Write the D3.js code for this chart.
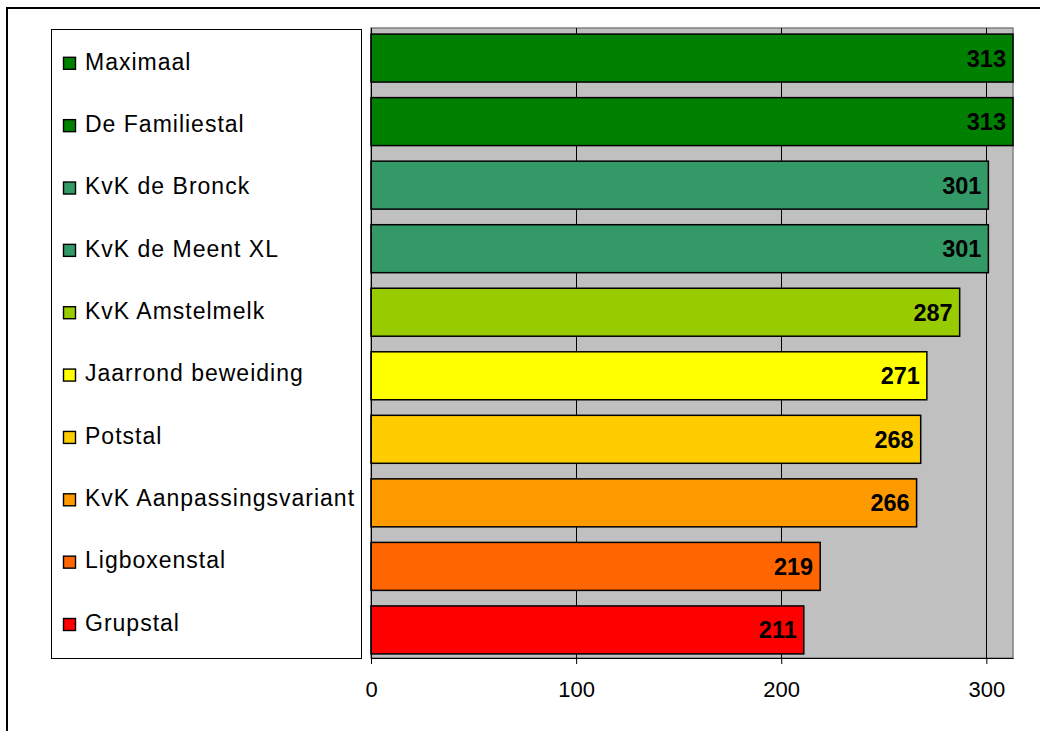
<!DOCTYPE html>
<html><head><meta charset="utf-8">
<script src="https://cdn.jsdelivr.net/npm/d3@7"></script>
<style>body{margin:0;background:#fff}svg{display:block}</style>
</head><body>
<svg id="c" width="1040" height="731"></svg>
<script>
const categories = ["Maximaal","De Familiestal","KvK de Bronck","KvK de Meent XL","KvK Amstelmelk","Jaarrond beweiding","Potstal","KvK Aanpassingsvariant","Ligboxenstal","Grupstal"];
const values = [313,313,301,301,287,271,268,266,219,211];
const colors = ["#008000","#008000","#339966","#339966","#99CC00","#FFFF00","#FFCC00","#FF9900","#FF6600","#FF0000"];
const ticks = [0,100,200,300];

const svg = d3.select("#c");
const font = "'Liberation Sans', Arial, sans-serif";

// outer frame
svg.append("rect").attr("x",7).attr("y",8).attr("width",1060).attr("height",760)
  .attr("fill","#fff").attr("stroke","#000").attr("stroke-width",2);

const plot = {left:371, right:1013, top:28, bottom:658};
const x = d3.scaleLinear().domain([0,313]).range([plot.left, plot.right]);
const y = d3.scaleBand().domain(categories).range([plot.top+1, plot.bottom+1]).paddingInner(0.245).paddingOuter(0.08);
const ly = d3.scalePoint().domain(categories).range([61.3, 622.5]);

// plot background
svg.append("rect").attr("x",plot.left).attr("y",plot.top).attr("width",plot.right-plot.left).attr("height",plot.bottom-plot.top)
  .attr("fill","#C0C0C0").attr("stroke","#808080").attr("stroke-width",1.5);

// gridlines
svg.append("g").selectAll("line").data(ticks.filter(t=>t>0)).join("line")
  .attr("x1",d=>Math.round(x(d))+0.5).attr("x2",d=>Math.round(x(d))+0.5)
  .attr("y1",plot.top).attr("y2",plot.bottom).attr("stroke","#000").attr("stroke-width",1);

// bars
svg.append("g").selectAll("rect").data(categories).join("rect")
  .attr("x",x(0)).attr("y",d=>y(d)).attr("width",(d,i)=>x(values[i])-x(0)).attr("height",y.bandwidth())
  .attr("fill",(d,i)=>colors[i]).attr("stroke","#000").attr("stroke-width",1.5);

// value labels
svg.append("g").selectAll("text").data(categories).join("text")
  .attr("x",(d,i)=>x(values[i])-7).attr("y",d=>y(d)+y.bandwidth()/2)
  .attr("dy","0.36em").attr("text-anchor","end")
  .attr("font-family",font).attr("font-weight","bold").attr("font-size",23.5)
  .text((d,i)=>values[i]);

// x axis
const xAxis = d3.axisBottom(x).tickValues(ticks).tickSize(6).tickSizeOuter(0);
const ga = svg.append("g").attr("transform",`translate(0,${plot.bottom})`).call(xAxis);
ga.select(".domain").attr("stroke","#000");
ga.selectAll(".tick line").attr("stroke","#000");
ga.selectAll("text").attr("font-family",font).attr("font-size",22).attr("fill","#000").attr("dy","1.35em");

// y axis line
svg.append("line").attr("x1",plot.left+0.5).attr("x2",plot.left+0.5).attr("y1",plot.top).attr("y2",plot.bottom+6).attr("stroke","#000");

// legend
const lg = svg.append("g");
lg.append("rect").attr("x",51.5).attr("y",29.5).attr("width",310).attr("height",629)
  .attr("fill","#fff").attr("stroke","#000").attr("stroke-width",1);
const items = lg.selectAll("g.item").data(categories).join("g").attr("class","item")
  .attr("transform",d=>`translate(0,${ly(d)})`);
items.append("rect").attr("x",63.5).attr("y",-4).attr("width",12).attr("height",12)
  .attr("fill",(d,i)=>colors[i]).attr("stroke","#000").attr("stroke-width",1.4);
items.append("text").attr("x",85).attr("y",0).attr("dy","0.36em")
  .attr("font-family",font).attr("font-size",23).attr("letter-spacing","1px").attr("fill","#000").text(d=>d);
</script>
</body></html>
